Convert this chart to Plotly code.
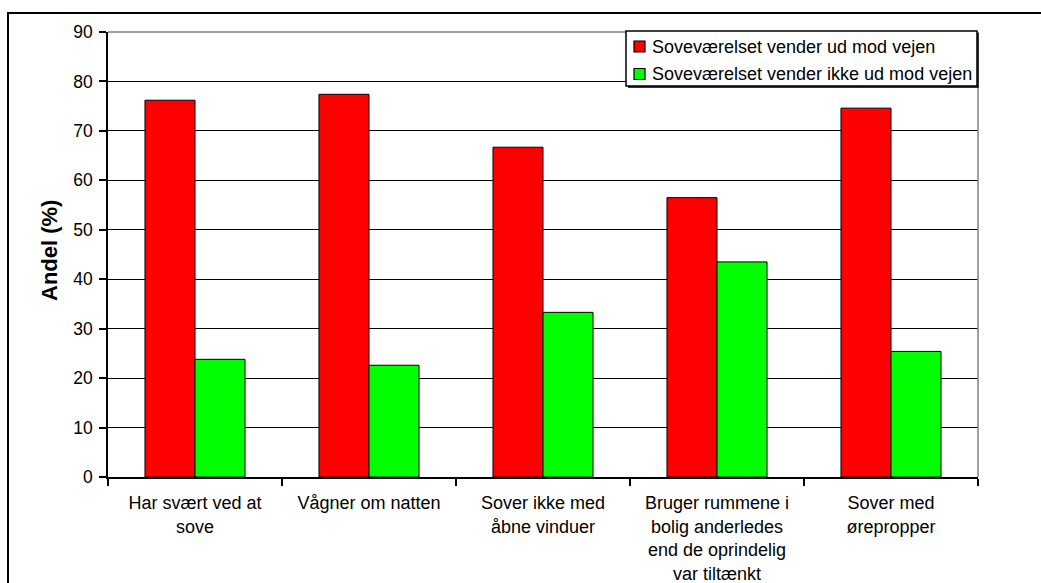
import plotly.graph_objects as go

categories = [
    "Har svært ved at<br>sove",
    "Vågner om natten",
    "Sover ikke med<br>åbne vinduer",
    "Bruger rummene i<br>bolig anderledes<br>end de oprindelig<br>var tiltænkt",
    "Sover med<br>ørepropper",
]
series_names = ["Soveværelset vender ud mod vejen", "Soveværelset vender ikke ud mod vejen"]
series_colors = ["#FF0000", "#00FF00"]
toward_road = [76.2, 77.4, 66.7, 56.5, 74.6]
not_toward_road = [23.8, 22.6, 33.3, 43.5, 25.4]
y_ticks = [0, 10, 20, 30, 40, 50, 60, 70, 80, 90]

FONT = "Liberation Sans, Arial, sans-serif"

fig = go.Figure()
for name, vals, col in zip(series_names, [toward_road, not_toward_road], series_colors):
    fig.add_trace(go.Bar(x=categories, y=vals, name=name,
                         marker=dict(color=col, line=dict(color="black", width=1))))

W, H = 1041, 583
L, R, T, B = 108, 63, 32, 106
pw, ph = W - L - R, H - T - B

def px_x(p):
    return (p - L) / pw

def px_y(p):
    return (H - B - p) / ph

shapes = [
    # outer chart border (left/top visible, others beyond the frame)
    dict(type="rect", xref="paper", yref="paper", x0=px_x(8), x1=px_x(1100), y0=px_y(13), y1=px_y(640),
         line=dict(color="black", width=2), layer="below"),
    # gray plot-area border top and right
    dict(type="line", xref="paper", yref="paper", x0=0, x1=1, y0=1, y1=1, line=dict(color="#808080", width=1.5)),
    dict(type="line", xref="paper", yref="paper", x0=1, x1=1, y0=0, y1=1, line=dict(color="#808080", width=1.5)),
    # legend shadow
    dict(type="rect", xref="paper", yref="paper", x0=px_x(628), x1=px_x(979), y0=px_y(88), y1=px_y(33),
         fillcolor="#333333", line=dict(width=0)),
    # legend box
    dict(type="rect", xref="paper", yref="paper", x0=px_x(626), x1=px_x(977), y0=px_y(86), y1=px_y(31),
         fillcolor="white", line=dict(color="black", width=1.5)),
]
annotations = [dict(text="<b>Andel (%)</b>", xref="paper", yref="paper", x=px_x(49), y=px_y(250),
                    xanchor="center", yanchor="middle",
                    textangle=-90, showarrow=False, font=dict(size=22, family=FONT))]

# legend entries (drawn manually to match the original compact legend)
row_y = [46.5, 74]
for name, col, ry in zip(series_names, series_colors, row_y):
    shapes.append(dict(type="rect", xref="paper", yref="paper", x0=px_x(634), x1=px_x(645),
                       y0=px_y(ry + 5.5), y1=px_y(ry - 5.5), fillcolor=col,
                       line=dict(color="black", width=1.2)))
    annotations.append(dict(text=name, xref="paper", yref="paper", x=px_x(650), y=px_y(ry),
                            xanchor="left", yanchor="middle", showarrow=False,
                            font=dict(size=18, family=FONT)))

fig.update_layout(
    width=W, height=H,
    margin=dict(l=L, r=R, t=T, b=B, pad=0),
    paper_bgcolor="white", plot_bgcolor="white",
    barmode="group", bargap=0.425, bargroupgap=0,
    font=dict(family=FONT, color="black", size=18),
    showlegend=False,
    shapes=shapes,
    annotations=annotations,
    xaxis=dict(tickson="boundaries", ticks="outside", ticklen=7, tickcolor="black", tickwidth=1.5,
               showline=True, linecolor="black", linewidth=1.5, showgrid=False, automargin=False,
               ticklabelstandoff=9,
               tickfont=dict(size=18, family=FONT), tickangle=0),
    yaxis=dict(range=[0, 90], tickvals=y_ticks, ticks="outside", ticklen=7, tickcolor="black", tickwidth=1.5,
               showline=True, linecolor="black", linewidth=1.5, showgrid=True, gridcolor="black", gridwidth=1,
               zeroline=False, automargin=False, ticklabelstandoff=3,
               tickfont=dict(size=17.5, family=FONT)),
)

fig.write_html("out.html", config={"displayModeBar": False},
               post_script="document.body.style.margin='0';document.body.style.overflow='hidden';")
